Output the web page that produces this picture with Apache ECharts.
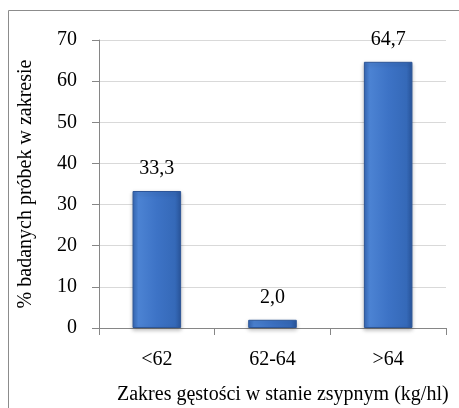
<!DOCTYPE html>
<html>
<head>
<meta charset="utf-8">
<script src="https://cdn.jsdelivr.net/npm/echarts@6/dist/echarts.min.js"></script>
<style>
  html, body { margin: 0; padding: 0; background: #fff; }
  #chart { width: 459px; height: 408px; }
</style>
</head>
<body>
<div id="chart"></div>
<script>
// density ranges and share of samples (%)
const categories = ["<62", "62-64", ">64"];
const values = [33.3, 2.0, 64.7];
const yTicks = { min: 0, max: 70, interval: 10 };

const FONT = "Liberation Serif";

const chart = echarts.init(document.getElementById("chart"));

// bluish bar with a slight bevel look
const barFill = new echarts.graphic.LinearGradient(0, 0, 1, 0, [
  { offset: 0, color: "#3668b6" },
  { offset: 0.12, color: "#4c83d3" },
  { offset: 0.5, color: "#3d73c6" },
  { offset: 0.88, color: "#3569b8" },
  { offset: 1, color: "#2a579f" },
]);

const option = {
  animation: false,
  grid: { left: 99, right: 13, top: 40, bottom: 80 },
  graphic: [
    {
      type: "rect",
      shape: { x: 8.5, y: 10.5, width: 470, height: 420 },
      style: { fill: "none", stroke: "#8c8c8c", lineWidth: 1 },
      silent: true,
    },
  ],
  title: {
    text: "Zakres gęstości w stanie zsypnym (kg/hl)",
    left: 112,
    top: 380,
    textStyle: { fontFamily: FONT, fontSize: 20, fontWeight: "normal", color: "#000" },
  },
  xAxis: {
    type: "category",
    data: categories,
    axisLine: { lineStyle: { color: "#868686", width: 1 } },
    axisTick: { show: true, length: 7, lineStyle: { color: "#868686" } },
    axisLabel: { fontFamily: FONT, fontSize: 20, color: "#000", margin: 22 },
  },
  yAxis: {
    type: "value",
    min: yTicks.min,
    max: yTicks.max,
    interval: yTicks.interval,
    name: "% badanych próbek w zakresie",
    nameLocation: "middle",
    nameGap: 63,
    nameTextStyle: { fontFamily: FONT, fontSize: 20, color: "#000" },
    axisLine: { show: true, lineStyle: { color: "#868686", width: 1 } },
    axisTick: { show: true, length: 7, lineStyle: { color: "#868686" } },
    axisLabel: { fontFamily: FONT, fontSize: 20, color: "#000", margin: 22 },
    splitLine: { lineStyle: { color: "#d9d9d9", width: 1 } },
  },
  series: [
    {
      type: "bar",
      data: values,
      barWidth: "42%",
      itemStyle: {
        color: barFill,
        borderColor: "#2d5697",
        borderWidth: 1,
        shadowColor: "rgba(0,0,0,0.25)",
        shadowBlur: 4,
        shadowOffsetY: 2,
      },
      label: {
        show: true,
        position: "top",
        distance: 12,
        fontFamily: FONT,
        fontSize: 20,
        color: "#000",
        formatter: (p) => p.value.toFixed(1).replace(".", ","),
      },
    },
  ],
};

chart.setOption(option);
window.addEventListener("resize", () => chart.resize());
</script>
</body>
</html>
